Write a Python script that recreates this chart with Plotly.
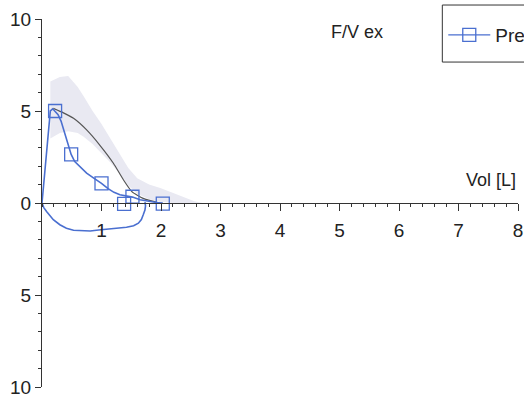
import plotly.graph_objects as go

# Expiratory limb of the measured flow-volume loop (volume in L, flow in L/s)
exp_vol = [0, 0.05, 0.1, 0.14, 0.18, 0.22, 0.27, 0.32, 0.38, 0.44, 0.49, 0.55, 0.64, 0.75, 0.87, 1.0,
           1.11, 1.21, 1.31, 1.42, 1.52, 1.65, 1.8, 1.92, 2.03]
exp_flow = [0, 1.9, 3.8, 5.0, 5.12, 5.0, 4.8, 4.45, 3.8, 3.1, 2.64, 2.25, 1.95, 1.62, 1.35, 1.07,
            0.78, 0.58, 0.45, 0.38, 0.32, 0.18, 0.08, 0.03, 0.0]

# Inspiratory limb (negative flow)
insp_vol = [0, 0.03, 0.08, 0.19, 0.3, 0.41, 0.53, 0.67, 0.81, 0.95, 1.09, 1.25, 1.42, 1.54, 1.62, 1.67, 1.70, 1.73, 1.74, 1.73]
insp_flow = [0, -0.25, -0.47, -0.91, -1.18, -1.37, -1.48, -1.52, -1.52, -1.47, -1.41, -1.37, -1.32, -1.24, -1.1, -0.9, -0.65, -0.38, -0.15, 0.05]

# Marked points on the "Pre" loop
mark_vol = [0.22, 0.49, 1.0, 1.38, 1.52, 2.03]
mark_flow = [5.0, 2.64, 1.07, -0.05, 0.34, -0.03]

# Predicted curve and its normal range
pred_vol = [0.19, 0.36, 0.53, 0.75, 0.97, 1.2, 1.37, 1.51, 1.7, 1.98]
pred_flow = [5.14, 4.9, 4.6, 3.97, 3.15, 2.16, 1.25, 0.62, 0.25, 0.0]

band_vol = [0.14, 0.3, 0.44, 0.6, 0.7, 0.85, 1.0, 1.15, 1.3, 1.45, 1.6, 1.8, 2.0, 2.2, 2.4, 2.56, 2.7]
band_hi = [6.6, 6.85, 6.9, 6.3, 5.8, 5.0, 4.3, 3.5, 2.7, 1.9, 1.35, 1.0, 0.8, 0.55, 0.3, 0.1, 0.0]
band_lo = [3.5, 3.8, 3.9, 3.8, 3.6, 3.2, 2.7, 2.2, 1.6, 0.95, 0.5, 0.2, 0.05, 0.0, 0.0, 0.0, 0.0]

x_ticks = [1, 2, 3, 4, 5, 6, 7, 8]
y_ticks = [-10, -5, 0, 5, 10]
y_ticktext = ["10", "5", "0", "5", "10"]

BLUE = "#4a6fd0"
GREY = "#555555"
BAND = "#e9e9f2"
AXIS = "#333333"
TEXT = "#222222"
FONT = "Liberation Sans, Arial, sans-serif"

fig = go.Figure()

# Normal range band
fig.add_trace(go.Scatter(x=band_vol, y=band_lo, mode="lines", line=dict(width=0),
                         showlegend=False, hoverinfo="skip"))
fig.add_trace(go.Scatter(x=band_vol, y=band_hi, mode="lines", line=dict(width=0),
                         fill="tonexty", fillcolor=BAND, showlegend=False, hoverinfo="skip"))

# Predicted curve
fig.add_trace(go.Scatter(x=pred_vol, y=pred_flow, mode="lines",
                         line=dict(color=GREY, width=1.2, shape="spline", smoothing=0.5),
                         showlegend=False))

# Measured loop: expiratory and inspiratory limbs as separate segments
fig.add_trace(go.Scatter(x=exp_vol + [None] + insp_vol, y=exp_flow + [None] + insp_flow, mode="lines",
                         line=dict(color=BLUE, width=1.6), connectgaps=False,
                         showlegend=False, legendgroup="pre"))
fig.add_trace(go.Scatter(x=mark_vol, y=mark_flow, mode="markers",
                         marker=dict(symbol="square-open", size=13, color=BLUE, line=dict(width=1.3)),
                         showlegend=False, legendgroup="pre"))

# Legend entry for the loop
fig.add_trace(go.Scatter(x=[None], y=[None], mode="lines+markers", name="Pre",
                         line=dict(color=BLUE, width=1.2),
                         marker=dict(symbol="square-open", size=13, color=BLUE, line=dict(width=1.3)),
                         legendgroup="pre"))

fig.update_layout(
    width=524, height=401,
    margin=dict(l=42, r=6, t=19, b=14, autoexpand=False),
    paper_bgcolor="white", plot_bgcolor="white",
    font=dict(family=FONT, size=19, color=TEXT),
    showlegend=True,
    legend=dict(x=0.843, y=1.008, xanchor="left", yanchor="top", itemwidth=42,
                bgcolor="rgba(0,0,0,0)", borderwidth=0,
                font=dict(family=FONT, size=19, color=TEXT)),
    xaxis=dict(range=[0, 8], anchor="free", position=0.5,
               showline=True, linecolor=AXIS, linewidth=1,
               tickvals=x_ticks, ticks="outside", ticklen=7, tickcolor=AXIS, tickwidth=1,
               ticklabelstandoff=3,
               minor=dict(dtick=0.2, tick0=0, ticks="outside", ticklen=3, tickcolor=AXIS, showgrid=False),
               showgrid=False, zeroline=False,
               tickfont=dict(family=FONT, size=19, color=TEXT)),
    yaxis=dict(range=[-10, 10],
               showline=True, linecolor=AXIS, linewidth=1,
               tickvals=y_ticks, ticktext=y_ticktext, ticks="outside", ticklen=6,
               tickcolor=AXIS, tickwidth=1,
               minor=dict(dtick=1, tick0=0, ticks="outside", ticklen=3, tickcolor=AXIS, showgrid=False),
               showgrid=False, zeroline=False,
               tickfont=dict(family=FONT, size=19, color=TEXT)),
    shapes=[dict(type="rect", xref="paper", yref="paper",
                 x0=0.841, x1=1.2, y0=0.883, y1=1.038,
                 line=dict(color=AXIS, width=1), fillcolor="rgba(0,0,0,0)")],
    annotations=[
        dict(text="F/V ex", x=5.3, y=9.29, xref="x", yref="y", showarrow=False,
             font=dict(family=FONT, size=18, color=TEXT)),
        dict(text="Vol [L]", x=8, y=1.25, xref="x", yref="y", xanchor="right", yanchor="middle",
             showarrow=False, font=dict(family=FONT, size=18, color=TEXT)),
    ],
)

fig.write_html("out.html")
